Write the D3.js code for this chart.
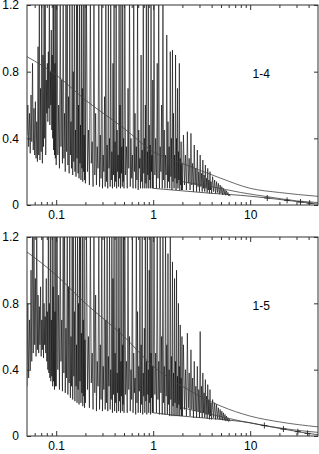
<!DOCTYPE html>
<html>
<head>
<meta charset="utf-8">
<script src="https://cdn.jsdelivr.net/npm/d3@7"></script>
<style>
  body { margin: 0; background: #fff; }
  text { font-family: "Liberation Sans", Arial, sans-serif; font-size: 12px; fill: #000; }
</style>
</head>
<body>
<div id="chart"></div>
<script>
// sample frequencies shared by both spectra
var freq = [
  0.050,0.051,0.052,0.053,0.054,0.055,0.056,0.057,0.058,0.059,
  0.060,0.061,0.062,0.063,0.064,0.065,0.066,0.067,0.068,0.069,
  0.070,0.071,0.072,0.073,0.074,0.075,0.076,0.077,0.078,0.079,
  0.080,0.081,0.082,0.083,0.084,0.085,0.086,0.087,0.088,0.089,
  0.090,0.091,0.092,0.093,0.094,0.095,0.096,0.097,0.098,0.099,
  0.100,0.102,0.104,0.106,0.108,0.110,0.112,0.114,0.116,0.118,
  0.120,0.122,0.124,0.126,0.128,0.130,0.132,0.134,0.136,0.138,
  0.140,0.142,0.144,0.146,0.148,0.150,0.152,0.154,0.156,0.158,
  0.160,0.162,0.164,0.166,0.168,0.170,0.172,0.174,0.176,0.178,
  0.180,0.182,0.184,0.186,0.188,0.190,0.192,0.194,0.196,0.198,
  0.200,0.205,0.210,0.215,0.220,0.225,0.230,0.235,0.240,0.245,
  0.250,0.255,0.260,0.265,0.270,0.275,0.280,0.285,0.290,0.295,
  0.300,0.305,0.310,0.315,0.320,0.325,0.330,0.335,0.340,0.345,
  0.350,0.355,0.360,0.365,0.370,0.375,0.380,0.385,0.390,0.395,
  0.400,0.405,0.410,0.415,0.420,0.425,0.430,0.435,0.440,0.445,
  0.450,0.455,0.460,0.465,0.470,0.475,0.480,0.485,0.490,0.495,
  0.50,0.51,0.52,0.53,0.54,0.55,0.56,0.57,0.58,0.59,
  0.60,0.61,0.62,0.63,0.64,0.65,0.66,0.67,0.68,0.69,
  0.70,0.71,0.72,0.73,0.74,0.75,0.76,0.77,0.78,0.79,
  0.80,0.81,0.82,0.83,0.84,0.85,0.86,0.87,0.88,0.89,
  0.90,0.91,0.92,0.93,0.94,0.95,0.96,0.97,0.98,0.99,
  1.00,1.02,1.04,1.06,1.08,1.10,1.12,1.14,1.16,1.18,
  1.20,1.22,1.24,1.26,1.28,1.30,1.32,1.34,1.36,1.38,
  1.40,1.42,1.44,1.46,1.48,1.50,1.52,1.54,1.56,1.58,
  1.60,1.62,1.64,1.66,1.68,1.70,1.72,1.74,1.76,1.78,
  1.80,1.82,1.84,1.86,1.88,1.90,1.92,1.94,1.96,1.98,
  2.00,2.05,2.10,2.15,2.20,2.25,2.30,2.35,2.40,2.45,
  2.50,2.55,2.60,2.65,2.70,2.75,2.80,2.85,2.90,2.95,
  3.00,3.05,3.10,3.15,3.20,3.25,3.30,3.35,3.40,3.45,
  3.50,3.55,3.60,3.65,3.70,3.75,3.80,3.85,3.90,3.95,
  4.0,4.1,4.2,4.3,4.4,4.5,4.6,4.7,4.8,4.9,
  5.0,5.1,5.2,5.3,5.4,5.5,5.6,5.7,5.8,5.9,
  6.0,6.1,6.2
];

// spectrum 1-4 (values above 1.2 are cut by the frame)
var spec14 = [
  .42,.60,.35,.55,.31,.66,.38,.85,.33,.58,
  .30,.62,.28,.50,.26,.95,.30,1.3,.27,.70,
  .32,1.3,.25,.90,.35,1.3,.40,1.3,.30,.75,
  .55,.85,.50,.92,.58,1.3,.48,.80,.60,1.05,
  .45,.90,.40,1.3,.33,1.3,.30,.85,.28,1.3,
  .24,1.3,.30,.60,.22,1.3,.35,.75,.25,1.3,
  .28,.55,.20,1.3,.32,1.3,.24,.65,.19,1.3,
  .30,.50,.22,1.3,.18,.80,.26,1.3,.20,.45,
  .17,1.3,.28,1.3,.19,.60,.16,1.3,.25,.48,
  .15,1.3,.22,.70,.14,1.3,.20,.42,.15,1.3,
  .13,1.3,.20,.45,.12,1.3,.25,.38,.11,1.3,
  .18,.55,.12,.35,.22,1.3,.11,.42,.16,1.3,
  .10,.30,.20,.65,.11,1.3,.14,.36,.10,1.3,
  .22,.40,.11,1.3,.15,.32,.10,.85,.18,1.3,
  .11,.38,.14,1.3,.10,.45,.20,.30,.11,1.3,
  .16,.60,.10,1.3,.19,.35,.11,1.3,.14,.40,
  .10,1.3,.18,.35,.10,.70,.22,1.3,.11,.40,
  .16,.30,.10,1.3,.20,.55,.10,.35,.15,1.3,
  .09,.45,.22,.28,.10,.90,.14,.33,.10,1.3,
  .19,.40,.10,.60,.13,1.3,.10,.32,.18,1.3,
  .10,.48,.15,.36,.10,1.3,.20,.30,.10,.75,
  .10,1.3,.18,.40,.10,.85,.16,1.3,.10,.35,
  .20,.60,.10,1.3,.15,.45,.10,.30,.18,1.02,
  .10,.50,.14,.35,.10,.92,.17,.40,.09,.93,
  .14,.55,.10,.30,.16,.90,.09,.40,.13,.70,
  .10,.32,.15,.85,.09,.28,.12,.38,.09,.25,
  .09,.42,.12,.30,.09,.44,.13,.28,.09,.43,
  .12,.25,.08,.36,.12,.22,.08,.33,.11,.20,
  .08,.30,.11,.19,.08,.27,.10,.18,.08,.24,
  .10,.16,.075,.22,.09,.15,.07,.20,.09,.14,
  .07,.17,.08,.15,.07,.14,.075,.13,.065,.12,
  .07,.11,.06,.10,.065,.09,.058,.085,.06,.075,
  .055,.065,.052
];

// spectrum 1-5
var spec15 = [
  .30,.80,.35,.70,.40,1.0,.45,1.3,.50,1.3,
  .55,.95,.48,1.3,.52,.85,.50,.78,.55,.90,
  .48,.70,.52,1.3,.47,.80,.55,.72,.50,.95,
  .45,.75,.40,1.3,.38,.80,.35,1.3,.33,.70,
  .36,1.3,.30,.90,.33,1.3,.28,.75,.30,1.3,
  .30,1.3,.40,.85,.28,1.3,.45,.70,.27,1.3,
  .38,1.3,.26,.65,.35,1.3,.25,.90,.32,1.3,
  .23,.60,.30,1.3,.22,1.3,.36,.75,.21,1.3,
  .30,.55,.20,1.3,.28,.80,.19,1.3,.33,1.3,
  .20,.62,.26,1.3,.18,.70,.24,1.3,.17,.58,
  .20,1.3,.28,.60,.17,1.3,.32,.50,.16,1.3,
  .26,.85,.15,.45,.30,1.3,.16,.55,.22,1.3,
  .15,.42,.28,1.3,.16,.70,.20,1.3,.15,.48,
  .30,1.3,.16,.40,.22,1.3,.14,.95,.25,1.3,
  .15,.50,.20,1.3,.14,.38,.26,1.3,.15,.65,
  .21,1.3,.14,.45,.24,1.3,.15,.55,.19,1.3,
  .14,1.3,.25,.45,.14,1.3,.28,.60,.15,.40,
  .22,1.3,.14,.50,.26,.35,.13,1.3,.20,.75,
  .14,.42,.27,1.3,.14,.55,.19,1.3,.13,.38,
  .24,.65,.14,1.3,.21,.45,.13,1.3,.25,.40,
  .14,1.0,.20,1.3,.13,.50,.23,1.3,.14,.42,
  .14,1.3,.25,.50,.14,1.3,.22,.45,.13,1.3,
  .26,.60,.13,1.3,.20,.42,.13,1.3,.24,.55,
  .13,1.1,.19,.40,.12,1.3,.22,.48,.12,1.05,
  .18,.38,.12,.95,.20,.45,.12,1.0,.17,.36,
  .12,.80,.19,.42,.12,.67,.16,.35,.12,.60,
  .12,.55,.16,.40,.12,.62,.17,.38,.12,.52,
  .16,.35,.11,.45,.15,.30,.11,.42,.15,.28,
  .11,.63,.14,.30,.11,.38,.14,.26,.11,.34,
  .13,.24,.105,.31,.13,.22,.10,.28,.12,.20,
  .10,.22,.11,.20,.10,.19,.105,.17,.10,.16,
  .10,.15,.095,.14,.095,.13,.09,.12,.09,.11,
  .088,.10,.088
];

// smooth fitted curves
var fitX  = [0.05, 0.1, 0.2, 0.5, 1, 2, 5, 10, 20, 50];
var fit14 = [0.89, 0.78, 0.63, 0.46, 0.32, 0.25, 0.16, 0.10, 0.075, 0.052];
var fit15 = [1.11, 0.97, 0.80, 0.60, 0.42, 0.30, 0.18, 0.12, 0.085, 0.055];

var midX  = [2, 4, 8, 15, 30, 50];
var mid14 = [0.14, 0.11, 0.075, 0.05, 0.025, 0.015];
var mid15 = [0.17, 0.13, 0.09, 0.06, 0.035, 0.022];

var lowX14 = [1, 2, 4, 8, 15, 24, 33, 41, 50];
var low14  = [0.10, 0.085, 0.07, 0.058, 0.042, 0.028, 0.018, 0.011, 0.006];
var lowX15 = [1, 2, 4, 6.2, 10, 14, 22, 31, 39, 50];
var low15  = [0.14, 0.12, 0.105, 0.095, 0.08, 0.063, 0.042, 0.026, 0.016, 0.008];

// "+" symbols on the lower curve
var plusX14 = [15, 24, 33, 41];
var plusY14 = [0.042, 0.028, 0.018, 0.011];
var plusX15 = [14, 22, 31, 39];
var plusY15 = [0.063, 0.042, 0.026, 0.016];

var yTicks = [0, 0.4, 0.8, 1.2];
var xTicks = [0.1, 1, 10];
var xMinor = [0.06, 0.07, 0.08, 0.09, 0.2, 0.3, 0.4, 0.5, 0.6, 0.7, 0.8, 0.9,
              2, 3, 4, 5, 6, 7, 8, 9, 20, 30, 40];
var panelNames = ["1-4", "1-5"];

// Chart set up
var svgWidth = 319;
var svgHeight = 454;
var left = 27, right = 318;

var panels = [
  {top: 5,   bottom: 205, spec: spec14, fit: fit14, mid: mid14, lowX: lowX14, low: low14, px: plusX14, py: plusY14, name: panelNames[0]},
  {top: 237, bottom: 436, spec: spec15, fit: fit15, mid: mid15, lowX: lowX15, low: low15, px: plusX15, py: plusY15, name: panelNames[1]}
];

var svg = d3.select("#chart")
  .append("svg")
  .attr("width", svgWidth)
  .attr("height", svgHeight);

var xScale = d3.scaleLog()
  .domain([0.05, 50])
  .range([left, right]);

panels.forEach(function(p, i) {
  var yScale = d3.scaleLinear()
    .domain([0, 1.2])
    .range([p.bottom, p.top]);

  var line = d3.line()
    .x(d => xScale(d[0]))
    .y(d => yScale(d[1]));

  var smooth = d3.line()
    .x(d => xScale(d[0]))
    .y(d => yScale(d[1]))
    .curve(d3.curveMonotoneX);

  var clipId = "clip" + i;
  svg.append("clipPath").attr("id", clipId)
    .append("rect")
    .attr("x", left).attr("y", p.top)
    .attr("width", right - left).attr("height", p.bottom - p.top);

  var g = svg.append("g").attr("clip-path", `url(#${clipId})`);

  // noisy spectrum
  g.append("path")
    .datum(d3.zip(freq, p.spec))
    .attr("fill", "none")
    .attr("stroke", "#000")
    .attr("stroke-width", 0.6)
    .attr("d", line);

  // fitted curves
  g.append("path")
    .datum(d3.zip(fitX, p.fit))
    .attr("fill", "none")
    .attr("stroke", "#444")
    .attr("stroke-width", 0.8)
    .attr("d", smooth);

  g.append("path")
    .datum(d3.zip(midX, p.mid))
    .attr("fill", "none")
    .attr("stroke", "#444")
    .attr("stroke-width", 0.8)
    .attr("d", smooth);

  g.append("path")
    .datum(d3.zip(p.lowX, p.low))
    .attr("fill", "none")
    .attr("stroke", "#333")
    .attr("stroke-width", 0.8)
    .attr("d", smooth);

  g.selectAll(".plus")
    .data(d3.zip(p.px, p.py))
    .enter()
    .append("path")
    .attr("class", "plus")
    .attr("transform", d => `translate(${xScale(d[0])},${yScale(d[1])})`)
    .attr("d", "M-3,0H3M0,-3V3")
    .attr("stroke", "#222")
    .attr("stroke-width", 0.9);

  // axes, ticks pointing inward
  var axisColor = "#333";

  svg.append("g")
    .attr("transform", `translate(0, ${p.bottom})`)
    .call(d3.axisBottom(xScale).tickValues(xTicks).tickSize(-5).tickPadding(5)
      .tickFormat(d3.format("")))
    .call(a => a.select(".domain").remove());

  svg.append("g")
    .attr("transform", `translate(0, ${p.bottom})`)
    .call(d3.axisBottom(xScale).tickValues(xMinor).tickSize(-3).tickFormat(""))
    .call(a => a.select(".domain").remove());

  svg.append("g")
    .attr("transform", `translate(0, ${p.top})`)
    .call(d3.axisTop(xScale).tickValues(xTicks).tickSize(-5).tickFormat(""))
    .call(a => a.select(".domain").remove());

  svg.append("g")
    .attr("transform", `translate(0, ${p.top})`)
    .call(d3.axisTop(xScale).tickValues(xMinor).tickSize(-3).tickFormat(""))
    .call(a => a.select(".domain").remove());

  svg.append("g")
    .attr("transform", `translate(${left}, 0)`)
    .call(d3.axisLeft(yScale).tickValues(yTicks).tickSize(-4).tickPadding(8)
      .tickFormat(d3.format("")))
    .call(a => a.select(".domain").remove());

  svg.append("g")
    .attr("transform", `translate(${right}, 0)`)
    .call(d3.axisRight(yScale).tickValues(yTicks).tickSize(-4).tickFormat(""))
    .call(a => a.select(".domain").remove());

  svg.selectAll(".tick line").attr("stroke", axisColor);
  svg.selectAll(".tick text")
    .attr("font-family", "Liberation Sans, Arial, sans-serif")
    .attr("font-size", 12)
    .attr("fill", "#000");

  // frame
  svg.append("rect")
    .attr("x", left).attr("y", p.top)
    .attr("width", right - left).attr("height", p.bottom - p.top)
    .attr("fill", "none")
    .attr("stroke", axisColor)
    .attr("stroke-width", 1);

  // panel name
  svg.append("text")
    .attr("x", xScale(13))
    .attr("y", yScale(0.785))
    .attr("text-anchor", "middle")
    .attr("dominant-baseline", "central")
    .text(p.name);
});
</script>
</body>
</html>
